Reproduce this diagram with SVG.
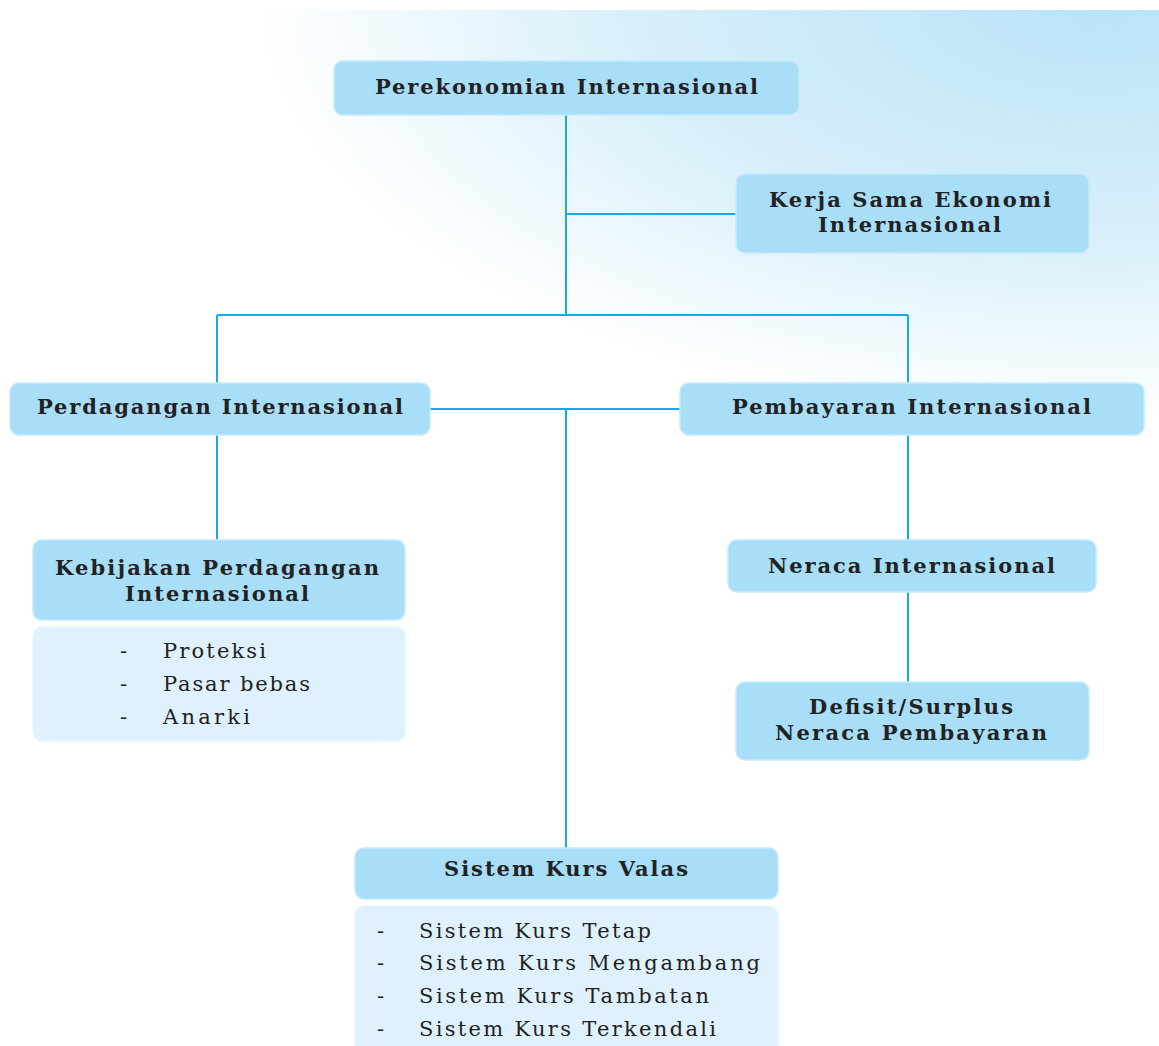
<svg xmlns="http://www.w3.org/2000/svg" width="1159" height="1046" viewBox="0 0 1159 1046">
<defs>
<radialGradient id="bg" cx="1100" cy="0" r="850" gradientUnits="userSpaceOnUse" gradientTransform="translate(1100 0) scale(1 0.5) translate(-1100 0)">
<stop offset="0" stop-color="#b9e3f8"/>
<stop offset="0.55" stop-color="#d8effa"/>
<stop offset="1" stop-color="#ffffff"/>
</radialGradient>
<style>
.node{fill:#a9def8;stroke:#c4eafc;stroke-width:1.5}
.list{fill:#dff1fc;stroke:#e8f6fd;stroke-width:1.5}
.t{font-family:"DejaVu Serif","Liberation Serif",serif;font-weight:bold;font-size:21px;fill:#222}
.l{font-family:"DejaVu Serif","Liberation Serif",serif;font-size:21px;fill:#222}
.c{stroke:#1aa8e6;stroke-width:2;fill:none}
</style>
</defs>
<rect x="0" y="0" width="1159" height="1046" fill="#ffffff"/>
<rect x="0" y="10" width="1159" height="500" fill="url(#bg)"/>
<g id="connectors">
<path class="c" d="M566 115V315"/>
<path class="c" d="M566 214H736"/>
<path class="c" d="M217 315H908"/>
<path class="c" d="M217 315V383"/>
<path class="c" d="M908 315V383"/>
<path class="c" d="M430 409H680"/>
<path class="c" d="M566 409V848"/>
<path class="c" d="M217 435V540"/>
<path class="c" d="M908 435V540"/>
<path class="c" d="M908 592V682"/>
</g>
<g id="perekonomian">
<rect class="node" x="334" y="61" width="465" height="54" rx="9"/>
<text class="t" x="375" y="94" textLength="383" lengthAdjust="spacing">Perekonomian Internasional</text>
</g>
<g id="kerjasama">
<rect class="node" x="736" y="174" width="353" height="79" rx="9"/>
<text class="t" x="769" y="207" textLength="282" lengthAdjust="spacing">Kerja Sama Ekonomi</text>
<text class="t" x="818" y="232" textLength="183" lengthAdjust="spacing">Internasional</text>
</g>
<g id="perdagangan">
<rect class="node" x="10" y="383" width="420" height="52" rx="9"/>
<text class="t" x="37" y="414" textLength="366" lengthAdjust="spacing">Perdagangan Internasional</text>
</g>
<g id="pembayaran">
<rect class="node" x="680" y="383" width="464" height="52" rx="9"/>
<text class="t" x="732" y="414" textLength="359" lengthAdjust="spacing">Pembayaran Internasional</text>
</g>
<g id="kebijakan">
<rect class="node" x="33" y="540" width="372" height="80" rx="9"/>
<text class="t" x="55" y="575" textLength="324" lengthAdjust="spacing">Kebijakan Perdagangan</text>
<text class="t" x="125" y="601" textLength="184" lengthAdjust="spacing">Internasional</text>
<rect class="list" x="33" y="627" width="372" height="114" rx="9"/>
<text class="l" x="120" y="658">-</text>
<text class="l" x="163" y="658" textLength="103" lengthAdjust="spacing">Proteksi</text>
<text class="l" x="120" y="691">-</text>
<text class="l" x="163" y="691" textLength="147" lengthAdjust="spacing">Pasar bebas</text>
<text class="l" x="120" y="724">-</text>
<text class="l" x="163" y="724" textLength="87" lengthAdjust="spacing">Anarki</text>
</g>
<g id="neraca">
<rect class="node" x="728" y="540" width="368" height="52" rx="9"/>
<text class="t" x="768" y="573" textLength="287" lengthAdjust="spacing">Neraca Internasional</text>
</g>
<g id="defisit">
<rect class="node" x="736" y="682" width="353" height="78" rx="9"/>
<text class="t" x="809" y="714" textLength="204" lengthAdjust="spacing">Defisit/Surplus</text>
<text class="t" x="775" y="740" textLength="272" lengthAdjust="spacing">Neraca Pembayaran</text>
</g>
<g id="kursvalas">
<rect class="node" x="355" y="848" width="423" height="51" rx="9"/>
<text class="t" x="444" y="876" textLength="244" lengthAdjust="spacing">Sistem Kurs Valas</text>
<rect class="list" x="355" y="906" width="423" height="150" rx="9"/>
<text class="l" x="377" y="938">-</text>
<text class="l" x="419" y="938" textLength="232" lengthAdjust="spacing">Sistem Kurs Tetap</text>
<text class="l" x="377" y="970">-</text>
<text class="l" x="419" y="970" textLength="341" lengthAdjust="spacing">Sistem Kurs Mengambang</text>
<text class="l" x="377" y="1003">-</text>
<text class="l" x="419" y="1003" textLength="290" lengthAdjust="spacing">Sistem Kurs Tambatan</text>
<text class="l" x="377" y="1036">-</text>
<text class="l" x="419" y="1036" textLength="297" lengthAdjust="spacing">Sistem Kurs Terkendali</text>
</g>
</svg>
